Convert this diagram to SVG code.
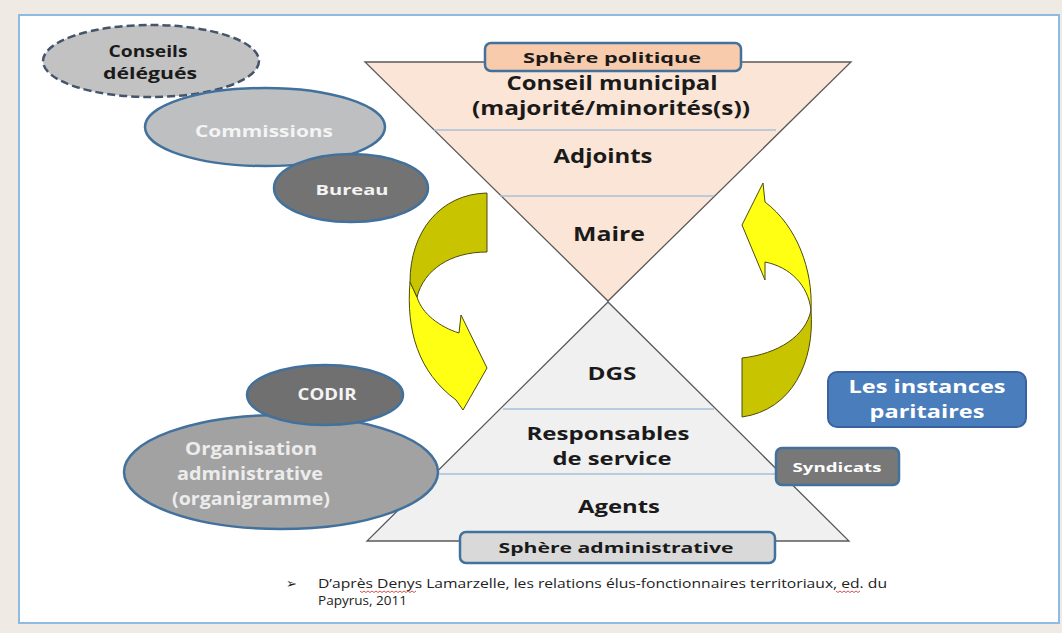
<svg xmlns="http://www.w3.org/2000/svg" width="1062" height="633" viewBox="0 0 1062 633">
<defs>
<style>
.lbl{font-family:"Open Sans","Liberation Sans",sans-serif;font-weight:bold;text-anchor:middle;}
.dark{fill:#1a1a1a;}
.light{fill:#ffffff;}
.sep{stroke:#a7bfd8;stroke-width:1.5;}
.tri{stroke:#595959;stroke-width:1.3;}
.ell{stroke:#41719c;stroke-width:2.5;}
.arrowBack{fill:#c8c400;stroke:#4d4a10;stroke-width:1;}
.arrowFront{fill:#ffff14;stroke:#4d4a10;stroke-width:1;}
.note{font-family:"Open Sans","Liberation Sans",sans-serif;font-size:13px;fill:#222;}
.squig{fill:none;stroke:#d04040;stroke-width:0.9;}
</style>
</defs>
<rect x="0" y="0" width="1062" height="633" fill="#efeae3"/>
<rect x="19" y="15" width="1040" height="608" fill="#ffffff" stroke="#8fbbe2" stroke-width="2"/>

<g id="sphere-politique-triangle">
<polygon class="tri" points="365,62 851,62 608,301" fill="#fbe5d6"/>
<line class="sep" x1="434" y1="130" x2="776" y2="130"/>
<line class="sep" x1="500" y1="196" x2="714" y2="196"/>
<text class="lbl dark" x="612" y="90" font-size="19" textLength="211" lengthAdjust="spacingAndGlyphs">Conseil municipal</text>
<text class="lbl dark" x="611" y="115" font-size="19" textLength="278" lengthAdjust="spacingAndGlyphs">(majorité/minorités(s))</text>
<text class="lbl dark" x="603" y="163" font-size="19" textLength="99" lengthAdjust="spacingAndGlyphs">Adjoints</text>
<text class="lbl dark" x="609" y="241" font-size="19" textLength="72" lengthAdjust="spacingAndGlyphs">Maire</text>
</g>

<g id="sphere-administrative-triangle">
<polygon class="tri" points="608,302 367,541 849,541" fill="#f0f0f0"/>
<line class="sep" x1="503" y1="409" x2="714" y2="409"/>
<line class="sep" x1="437" y1="474" x2="779" y2="474"/>
<text class="lbl dark" x="612" y="380" font-size="18" textLength="49" lengthAdjust="spacingAndGlyphs">DGS</text>
<text class="lbl dark" x="608" y="440" font-size="18" textLength="163" lengthAdjust="spacingAndGlyphs">Responsables</text>
<text class="lbl dark" x="612" y="465" font-size="18" textLength="119" lengthAdjust="spacingAndGlyphs">de service</text>
<text class="lbl dark" x="619" y="513" font-size="18" textLength="82" lengthAdjust="spacingAndGlyphs">Agents</text>
</g>

<g id="sphere-politique">
<rect x="485" y="43" width="256" height="28" rx="6" fill="#f8cbad" stroke="#41719c" stroke-width="2.5"/>
<text class="lbl dark" x="612" y="63" font-size="15" textLength="178" lengthAdjust="spacingAndGlyphs">Sphère politique</text>
</g>

<g id="sphere-administrative">
<rect x="460" y="532" width="315" height="31" rx="6" fill="#d9d9d9" stroke="#41719c" stroke-width="2.5"/>
<text class="lbl dark" x="616" y="553" font-size="15" textLength="235" lengthAdjust="spacingAndGlyphs">Sphère administrative</text>
</g>

<g id="conseils-delegues">
<ellipse cx="151" cy="61" rx="108" ry="36" fill="#c2c2c2" stroke="#44546a" stroke-width="2.5" stroke-dasharray="8,4"/>
<text class="lbl dark" x="148" y="57" font-size="16" textLength="79" lengthAdjust="spacingAndGlyphs">Conseils</text>
<text class="lbl dark" x="150" y="79" font-size="16" textLength="94" lengthAdjust="spacingAndGlyphs">délégués</text>
</g>

<g id="commissions">
<ellipse class="ell" cx="265" cy="127" rx="120" ry="39" fill="#bdbfc1"/>
<text class="lbl" fill="#f4f4f4" x="264" y="137" font-size="16" textLength="138" lengthAdjust="spacingAndGlyphs">Commissions</text>
</g>

<g id="bureau">
<ellipse class="ell" cx="351" cy="188" rx="77" ry="34" fill="#737373"/>
<text class="lbl" fill="#f4f4f4" x="352" y="195" font-size="15" textLength="73" lengthAdjust="spacingAndGlyphs">Bureau</text>
</g>

<g id="organisation-administrative">
<ellipse class="ell" cx="281" cy="472" rx="157" ry="57" fill="#a2a2a2"/>
<text class="lbl" fill="#ececec" x="251" y="455" font-size="17" textLength="132" lengthAdjust="spacingAndGlyphs">Organisation</text>
<text class="lbl" fill="#ececec" x="250" y="480" font-size="17" textLength="146" lengthAdjust="spacingAndGlyphs">administrative</text>
<text class="lbl" fill="#ececec" x="251" y="505" font-size="17" textLength="158" lengthAdjust="spacingAndGlyphs">(organigramme)</text>
</g>

<g id="codir">
<ellipse class="ell" cx="325" cy="395" rx="78" ry="30" fill="#707070"/>
<text class="lbl" fill="#f4f4f4" x="327" y="400" font-size="16" textLength="59" lengthAdjust="spacingAndGlyphs">CODIR</text>
</g>

<g id="instances-paritaires">
<rect x="828" y="372" width="198" height="55" rx="9" fill="#4a7dbc" stroke="#3a62a0" stroke-width="2"/>
<text class="lbl light" x="927" y="393" font-size="18" textLength="157" lengthAdjust="spacingAndGlyphs">Les instances</text>
<text class="lbl light" x="927" y="418" font-size="18" textLength="115" lengthAdjust="spacingAndGlyphs">paritaires</text>
</g>

<g id="syndicats">
<rect x="776" y="448" width="123" height="37" rx="6" fill="#787878" stroke="#41719c" stroke-width="2.5"/>
<text class="lbl light" x="837" y="472" font-size="13" textLength="89" lengthAdjust="spacingAndGlyphs">Syndicats</text>
</g>

<g id="connectors">
<path class="arrowFront" d="M410,282 C406,330 418,372 456,400 L463,410 L487,368 L461,315 L459,333 C440,327 422,314 417,297 Z"/>
<path class="arrowBack" d="M487,193 C440,194 410,232 410,282 L417,297 C424,270 450,252 487,252 Z"/>
<path class="arrowFront" d="M763,183 L742,225 L765,280 L765,262 C790,267 808,285 811,310 C813,270 797,226 765,202 Z"/>
<path class="arrowBack" d="M742,358 C778,354 806,336 811,310 C815,362 792,410 742,417 Z"/>
</g>

<g id="footnote">
<text x="286" y="588" font-family="DejaVu Sans, sans-serif" font-size="13" fill="#222">➢</text>
<text class="note" x="318" y="588" textLength="569" lengthAdjust="spacingAndGlyphs">D’après Denys Lamarzelle, les relations élus-fonctionnaires territoriaux, ed. du</text>
<text class="note" x="318" y="605" textLength="89" lengthAdjust="spacingAndGlyphs">Papyrus, 2011</text>
<path class="squig" d="M360,591 l2,1.5 l2,-1.5 l2,1.5 l2,-1.5 l2,1.5 l2,-1.5 l2,1.5 l2,-1.5 l2,1.5 l2,-1.5 l2,1.5 l2,-1.5 l2,1.5 l2,-1.5 l2,1.5 l2,-1.5 l2,1.5 l2,-1.5 l2,1.5 l2,-1.5 l2,1.5 l2,-1.5 l2,1.5 l2,-1.5 l2,1.5 l2,-1.5 l2,1.5 l2,-1.5"/>
<path class="squig" d="M836,591 l2,1.5 l2,-1.5 l2,1.5 l2,-1.5 l2,1.5 l2,-1.5 l2,1.5 l2,-1.5 l2,1.5 l2,-1.5 l2,1.5 l2,-1.5"/>
</g>
</svg>
